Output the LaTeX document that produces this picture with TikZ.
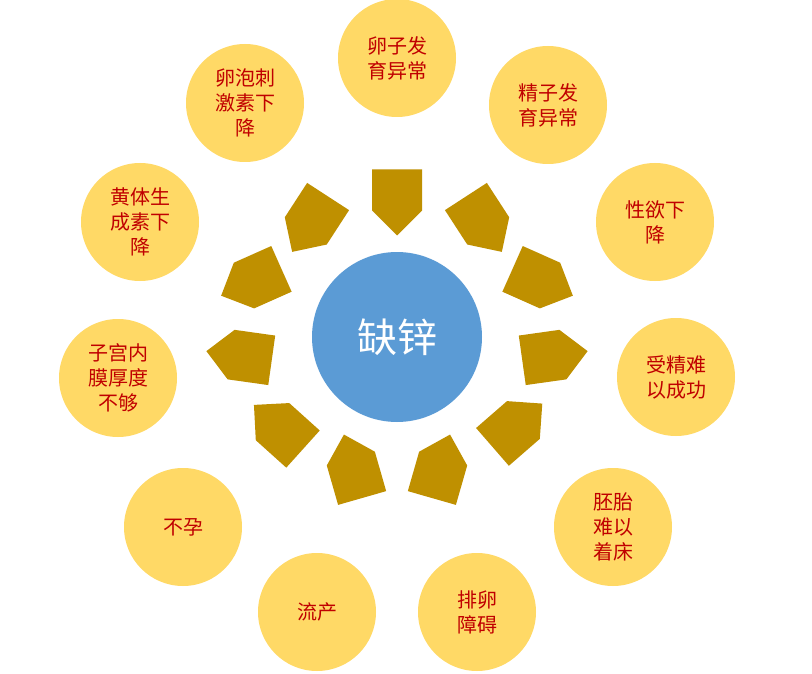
\documentclass[tikz,border=0pt]{standalone}
\usepackage{fontspec}
\setmainfont{Noto Sans CJK SC}
\usetikzlibrary{shapes.arrows}
\definecolor{yel}{HTML}{FFD966}
\definecolor{blu}{HTML}{5B9BD5}
\definecolor{arr}{HTML}{BF9000}
\definecolor{txt}{HTML}{C00000}
\begin{document}
\begin{tikzpicture}[x=1pt,y=-1pt,
 outer/.style={circle,fill=yel,minimum size=118pt,inner sep=0pt,align=center,text=txt,font=\fontsize{20}{25}\selectfont},
 blockarrow/.style={single arrow,fill=arr,minimum height=66pt,minimum width=50pt,single arrow head extend=0pt,inner sep=0pt,single arrow tip angle=90}]
\useasboundingbox (0,0) rectangle (812,674);
\fill[white] (0,0) rectangle (812,674);
\node[circle,fill=blu,minimum size=170pt,text=white,font=\fontsize{40}{40}\selectfont] (c) at (397,337) {缺锌};
\node[outer] (o1) at (397,58) {卵子发\\育异常};
\node[outer] (o2) at (548,105) {精子发\\育异常};
\node[outer] (o3) at (655,222) {性欲下\\降};
\node[outer] (o4) at (676,377) {受精难\\以成功};
\node[outer] (o5) at (613,527) {胚胎\\难以\\着床};
\node[outer] (o6) at (477,612) {排卵\\障碍};
\node[outer] (o7) at (317,612) {流产};
\node[outer] (o8) at (183,527) {不孕};
\node[outer] (o9) at (118,378) {子宫内\\膜厚度\\不够};
\node[outer] (o10) at (140,222) {黄体生\\成素下\\降};
\node[outer] (o11) at (245,103) {卵泡刺\\激素下\\降};
\foreach \a [count=\i] in {90,57,24,-8,-41,-74,-106,-138,-172,156,123}{
 \pgfmathsetmacro\px{397+147*cos(\a)}
 \pgfmathsetmacro\py{337-147*sin(\a)}
 \node[blockarrow,rotate=-\a] (a\i) at (\px,\py) {};
}
\end{tikzpicture}
\end{document}
